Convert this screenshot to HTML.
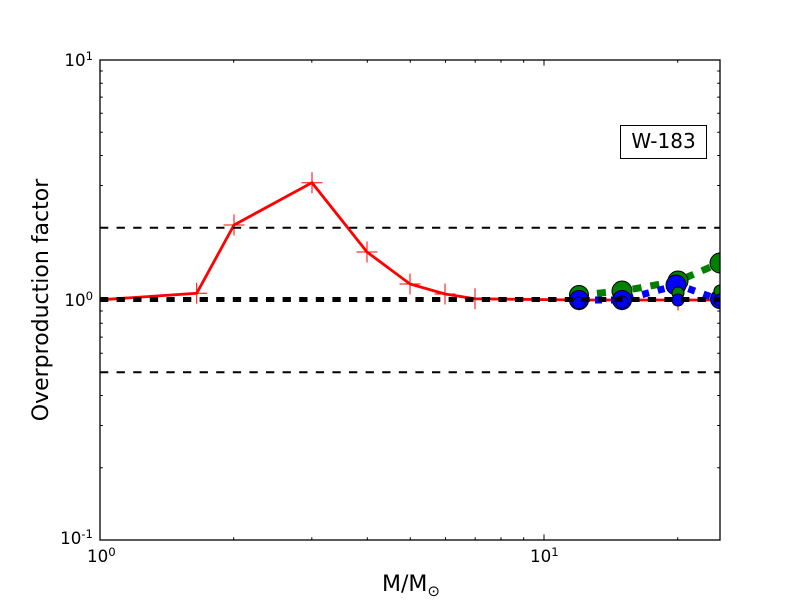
<!DOCTYPE html>
<html><head><meta charset="utf-8"><style>
html,body{margin:0;padding:0;background:#fff;}
svg{display:block;font-family:"DejaVu Sans","Liberation Sans",sans-serif;}
</style></head><body>
<svg width="800" height="600" viewBox="0 0 800 600" xmlns="http://www.w3.org/2000/svg">
<defs><clipPath id="c"><rect x="100" y="60" width="620" height="480"/></clipPath></defs>
<rect width="800" height="600" fill="#fff"/>
<g clip-path="url(#c)">
  <!-- red series -->
  <polyline fill="none" stroke="#f00" stroke-width="2.8" stroke-linejoin="miter" points="100,299.8 196.7,293.3 234,225 312,182.7 367,252 410,284 445,294 475,298.8 579,300 622,300 678,300 720,300"/>
  <g stroke="#f00" stroke-width="1">
    <path d="M186.2,293.3h21M196.7,282.8v21"/>
    <path d="M223.5,225h21M234,214.5v21"/>
    <path d="M301.5,182.7h21M312,172.2v21"/>
    <path d="M356.5,252h21M367,241.5v21"/>
    <path d="M399.5,284h21M410,273.5v21"/>
    <path d="M434.5,294h21M445,283.5v21"/>
    <path d="M464.5,298.8h21M475,288.3v21"/>
    <path d="M568.5,300h21M579,289.5v21"/>
    <path d="M611.5,300h21M622,289.5v21"/>
    <path d="M667.5,300h21M678,289.5v21"/>
    <path d="M709.5,300h21M720,289.5v21"/>
  </g>
  <!-- green big -->
  <polyline fill="none" stroke="#008000" stroke-width="7" stroke-dasharray="9,9" points="579,295 622,291 678,281 720,263"/>
  <g fill="#008000" stroke="#000" stroke-width="1">
    <circle cx="579" cy="295" r="9.5"/><circle cx="622" cy="291" r="10"/><circle cx="678" cy="281" r="10"/><circle cx="720" cy="263" r="10"/>
  </g>
  <!-- green small (behind) at 12, 15 -->
  <g fill="#008000" stroke="#000" stroke-width="1">
    <circle cx="579" cy="302" r="6"/><circle cx="622" cy="301" r="6"/>
  </g>
  <!-- blue big -->
  <polyline fill="none" stroke="#00f" stroke-width="7" stroke-dasharray="7,9" points="579,300 622,300 678,285 720,300"/>
  <g fill="#00f" stroke="#000" stroke-width="1">
    <circle cx="579" cy="300" r="9.5"/><circle cx="622" cy="300" r="9.5"/><circle cx="676" cy="285" r="10"/><circle cx="720" cy="299" r="9.5"/>
  </g>
  <!-- green small at 20, 25 -->
  <g fill="#008000" stroke="#000" stroke-width="1">
    <circle cx="678" cy="293" r="6"/><circle cx="720" cy="291" r="6"/>
  </g>
  <!-- blue small -->
  <g fill="#00f" stroke="#000" stroke-width="1">
    <circle cx="579" cy="303" r="6"/><circle cx="622" cy="302" r="6"/><circle cx="678" cy="300" r="6"/><circle cx="720" cy="300" r="6"/>
  </g>
  <!-- black reference lines -->
  <line x1="100" y1="227.8" x2="720" y2="227.8" stroke="#000" stroke-width="2" stroke-dasharray="8.3,8.3"/>
  <line x1="100" y1="372.2" x2="720" y2="372.2" stroke="#000" stroke-width="2" stroke-dasharray="8.3,8.3"/>
  <line x1="100" y1="299.5" x2="720" y2="299.5" stroke="#000" stroke-width="5" stroke-dasharray="8.3,8.3"/>
</g>
<!-- frame -->
<rect x="100" y="60" width="620" height="480" fill="none" stroke="#000" stroke-width="1.3"/>
<!-- ticks -->
<g stroke="#000" stroke-width="1">
  <path d="M544,540v-5.6M544,60v5.6"/>
  <path d="M233.7,540v-2.8M311.8,540v-2.8M367.3,540v-2.8M410.3,540v-2.8M445.5,540v-2.8M475.2,540v-2.8M501,540v-2.8M523.7,540v-2.8M677.7,540v-2.8"/>
  <path d="M233.7,60v2.8M311.8,60v2.8M367.3,60v2.8M410.3,60v2.8M445.5,60v2.8M475.2,60v2.8M501,60v2.8M523.7,60v2.8M677.7,60v2.8"/>
  <path d="M100,300h5.6M720,300h-5.6"/>
  <path d="M100,467.8h2.8M100,425.5h2.8M100,395.5h2.8M100,372.2h2.8M100,353.2h2.8M100,337.1h2.8M100,323.2h2.8M100,311h2.8M100,227.8h2.8M100,185.5h2.8M100,155.5h2.8M100,132.2h2.8M100,113.2h2.8M100,97.1h2.8M100,83.2h2.8M100,71h2.8"/>
  <path d="M720,467.8h-2.8M720,425.5h-2.8M720,395.5h-2.8M720,372.2h-2.8M720,353.2h-2.8M720,337.1h-2.8M720,323.2h-2.8M720,311h-2.8M720,227.8h-2.8M720,185.5h-2.8M720,155.5h-2.8M720,132.2h-2.8M720,113.2h-2.8M720,97.1h-2.8M720,83.2h-2.8M720,71h-2.8"/>
</g>
<!-- tick labels -->
<g font-size="16.7" fill="#000">
  <text x="87" y="562">10<tspan font-size="11.7" dy="-6">0</tspan></text>
  <text x="530" y="562">10<tspan font-size="11.7" dy="-6">1</tspan></text>
  <text x="93" y="66" text-anchor="end">10<tspan font-size="11.7" dy="-6">1</tspan></text>
  <text x="93" y="306" text-anchor="end">10<tspan font-size="11.7" dy="-6">0</tspan></text>
  <text x="93" y="544" text-anchor="end">10<tspan font-size="11.7" dy="-6">-1</tspan></text>
</g>
<!-- axis labels -->
<text x="382" y="591" font-size="22">M/M<tspan font-size="15" dy="5">⊙</tspan></text>
<text transform="translate(48,300) rotate(-90)" text-anchor="middle" font-size="22">Overproduction factor</text>
<!-- legend box -->
<rect x="620.5" y="125.5" width="86" height="33" fill="#fff" stroke="#000" stroke-width="1"/>
<text x="663.5" y="148" text-anchor="middle" font-size="20">W-183</text>
</svg>
</body></html>
